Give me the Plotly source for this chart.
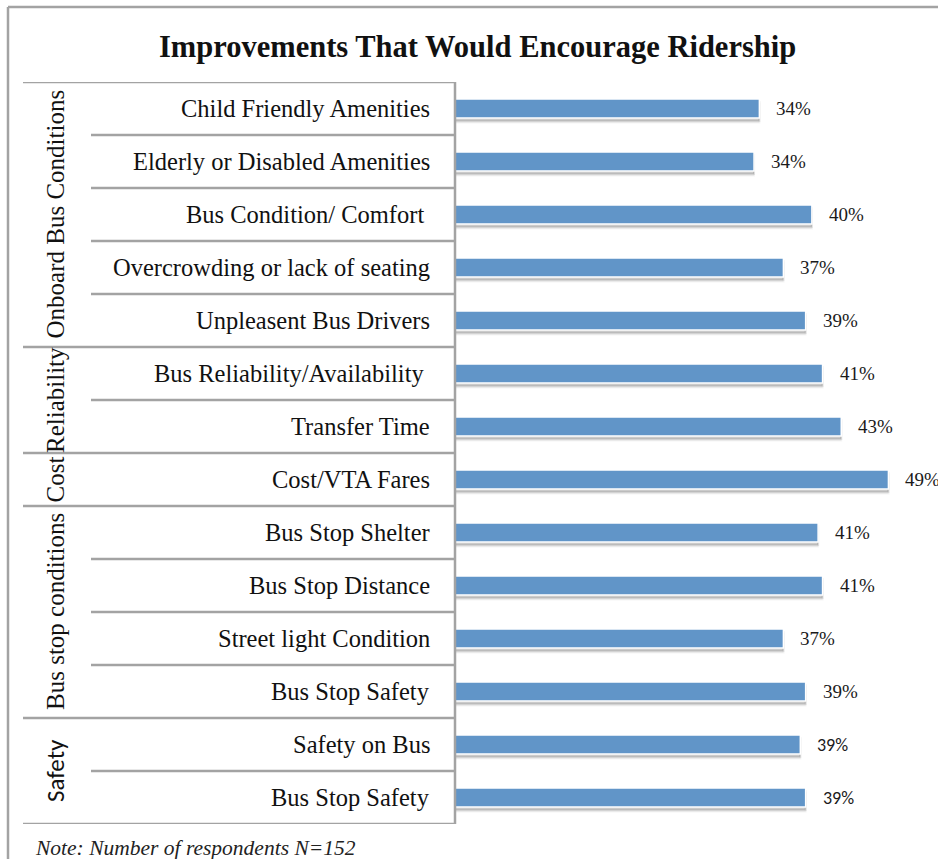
import plotly.graph_objects as go

W, H = 938, 859

categories = [
    "Child Friendly Amenities",
    "Elderly or Disabled Amenities",
    "Bus Condition/ Comfort\u00a0",
    "Overcrowding or lack of seating",
    "Unpleasent Bus Drivers",
    "Bus Reliability/Availability\u00a0",
    "Transfer Time",
    "Cost/VTA Fares",
    "Bus Stop Shelter",
    "Bus Stop Distance",
    "Street light Condition",
    "Bus Stop Safety",
    "Safety on Bus",
    "Bus Stop Safety",
]
values = [34.2, 33.6, 40.1, 36.9, 39.4, 41.3, 43.4, 48.7, 40.8, 41.3, 36.9, 39.4, 38.8, 39.4]
groups = ["Onboard Bus Conditions", "Reliability", "Cost", "Bus stop conditions", "Safety"]
group_sizes = [5, 2, 1, 4, 2]

title = "Improvements That Would Encourage Ridership"
note = "Note: Number of respondents N=152"

SERIF = "Liberation Serif, Times New Roman, serif"
SANS = "Carlito, Liberation Sans, Arial, sans-serif"
BAR = "#6195C8"
LINE = "#A3A3A3"

# layout geometry (pixels)
x_axis_left = 455
table_top, table_bottom = 82, 824
px_per_unit = 8.9
n = len(categories)
ypos = list(range(n))

def px(x):
    return x / W

def py(y):
    return 1 - y / H

fig = go.Figure()

# soft shadows
for off_px, alpha in [(4.5, 0.10), (3.0, 0.18)]:
    fig.add_trace(go.Bar(
        x=values, y=ypos, orientation="h",
        width=0.36, offset=-0.18 + off_px / 53.0,
        marker=dict(color=f"rgba(60,60,60,{alpha})",
                    line=dict(color=f"rgba(60,60,60,{alpha*0.6})", width=2)),
        hoverinfo="skip", showlegend=False,
    ))

fig.add_trace(go.Bar(
    x=values, y=ypos, orientation="h",
    width=0.36, offset=-0.18,
    marker=dict(color=BAR, line=dict(color="white", width=1.5)),
    showlegend=False,
))

annotations = []
shapes = []

# group membership
group_of = []
for g, s in zip(groups, group_sizes):
    group_of += [g] * s

# value labels
for i, v in enumerate(values):
    fam = SANS if group_of[i] == "Safety" else SERIF
    annotations.append(dict(
        x=v, y=i, xref="x", yref="y", text=f"{v:.0f}%",
        showarrow=False, xanchor="left", yanchor="middle", xshift=15,
        font=dict(family=fam, size=19 if fam == SERIF else 18, color="#1a1a1a"),
    ))

# category labels
for i, c in enumerate(categories):
    annotations.append(dict(
        x=px(432), y=i, xref="paper", yref="y", text=c,
        showarrow=False, xanchor="right", yanchor="middle",
        font=dict(family=SERIF, size=24.5, color="#111111"),
    ))

# group labels and separators
start = 0
for g, s in zip(groups, group_sizes):
    center = start + (s - 1) / 2
    fam = SANS if g == "Safety" else SERIF
    annotations.append(dict(
        x=px(55), y=center, xref="paper", yref="y", text=g,
        showarrow=False, textangle=-90, xanchor="center", yanchor="middle",
        font=dict(family=fam, size=25, color="#111111"),
    ))
    # group top line
    shapes.append(dict(type="line", xref="paper", yref="y",
                       x0=px(23), x1=px(x_axis_left), y0=start - 0.5, y1=start - 0.5,
                       line=dict(color=LINE, width=2.5)))
    for k in range(1, s):
        yy = start + k - 0.5
        shapes.append(dict(type="line", xref="paper", yref="y",
                           x0=px(91), x1=px(x_axis_left), y0=yy, y1=yy,
                           line=dict(color=LINE, width=2.5)))
    start += s
shapes.append(dict(type="line", xref="paper", yref="y",
                   x0=px(23), x1=px(x_axis_left), y0=n - 0.5, y1=n - 0.5,
                   line=dict(color=LINE, width=2.5)))
# axis vertical line
shapes.append(dict(type="line", xref="paper", yref="y",
                   x0=px(x_axis_left), x1=px(x_axis_left), y0=-0.5, y1=n - 0.5,
                   line=dict(color=LINE, width=2.5)))
# outer frame (top and left)
shapes.append(dict(type="line", xref="paper", yref="paper",
                   x0=px(8), x1=1.0, y0=py(7), y1=py(7),
                   line=dict(color=LINE, width=2.5)))
shapes.append(dict(type="line", xref="paper", yref="paper",
                   x0=px(8), x1=px(8), y0=py(7), y1=0,
                   line=dict(color=LINE, width=2.5)))

# title
annotations.append(dict(
    x=px(478), y=py(47), xref="paper", yref="paper", text=f"<b>{title}</b>",
    showarrow=False, xanchor="center", yanchor="middle",
    font=dict(family=SERIF, size=30.5, color="#111111"),
))
# note
annotations.append(dict(
    x=px(33), y=py(848), xref="paper", yref="paper", text=f"<i>{note}</i>",
    showarrow=False, xanchor="left", yanchor="middle",
    font=dict(family=SERIF, size=21.5, color="#222222"),
))

fig.update_layout(
    width=W, height=H,
    margin=dict(l=0, r=0, t=0, b=0),
    paper_bgcolor="white", plot_bgcolor="white",
    barmode="overlay",
    xaxis=dict(domain=[px(x_axis_left), 1.0], range=[0, (W - x_axis_left) / px_per_unit],
               visible=False, fixedrange=True),
    yaxis=dict(domain=[py(table_bottom), py(table_top)], range=[n - 0.5, -0.5],
               visible=False, fixedrange=True),
    annotations=annotations,
    shapes=shapes,
    showlegend=False,
)

fig.write_html("out.html")
